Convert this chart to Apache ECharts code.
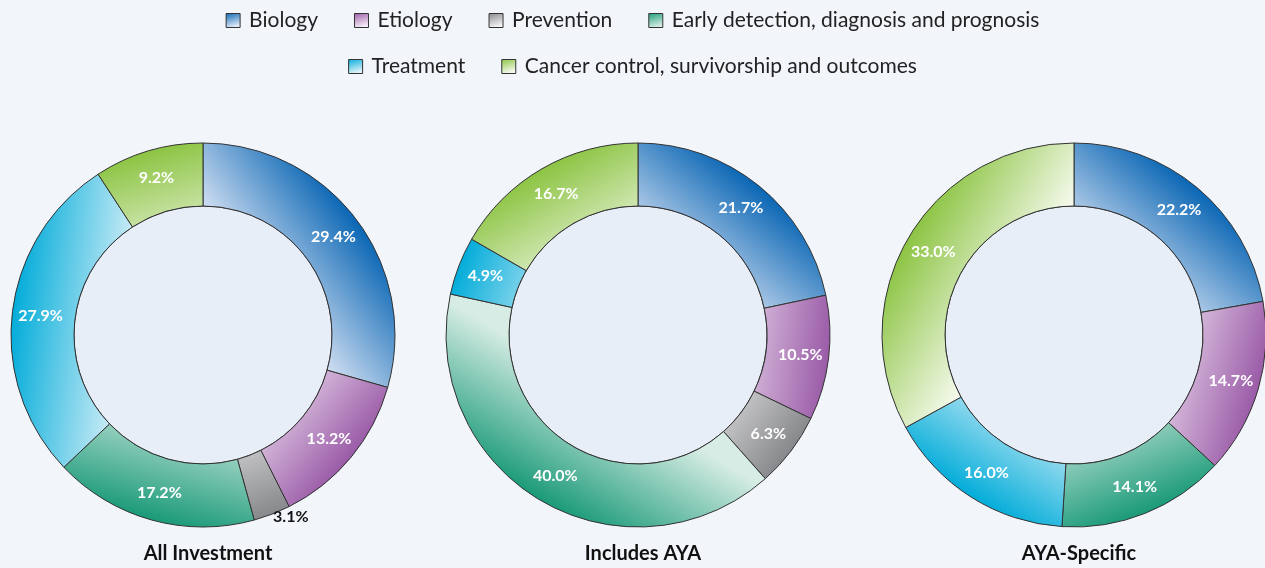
<!DOCTYPE html>
<html>
<head>
<meta charset="utf-8">
<title>Research investment by category</title>
<script src="https://cdn.jsdelivr.net/npm/echarts@6/dist/echarts.min.js"></script>
<style>
  html, body { margin: 0; padding: 0; background: #f2f6fb; }
  #main { width: 1265px; height: 568px; }
</style>
</head>
<body>
<div id="main"></div>
<script>
// categories (legend order)
const categories = [
  "Biology",
  "Etiology",
  "Prevention",
  "Early detection, diagnosis and prognosis",
  "Treatment",
  "Cancer control, survivorship and outcomes",
];
// percent share per category, one array per donut
const allInvestment = [29.4, 13.2, 3.1, 17.2, 27.9, 9.2];
const includesAYA = [21.7, 10.5, 6.3, 40.0, 4.9, 16.7];
const ayaSpecific = [22.2, 14.7, 0, 14.1, 16.0, 33.0];
const chartTitles = ["All Investment", "Includes AYA", "AYA-Specific"];

// styles
const darkColors = ["#0a66b4", "#9a5ba7", "#87888b", "#1a9a78", "#02acd9", "#8cc443"];
const lightColors = ["#e2e9f7", "#f7eef8", "#f4f4f4", "#d6ece4", "#e2f3fa", "#f6faee"];
const centers = [[203, 335], [638, 335], [1074, 335]];
const R_IN = 129;
const R_OUT = 192;
const FONT = "Lato, 'Open Sans', sans-serif";

// gradient that runs outward along the slice's middle direction
function sliceGradient(cx, cy, midDeg, i) {
  const a = (midDeg * Math.PI) / 180;
  const dx = Math.sin(a);
  const dy = -Math.cos(a);
  return {
    type: "linear",
    global: true,
    x: cx + dx * R_OUT * 0.35,
    y: cy + dy * R_OUT * 0.35,
    x2: cx + dx * R_OUT,
    y2: cy + dy * R_OUT,
    colorStops: [
      { offset: 0, color: lightColors[i] },
      { offset: 1, color: darkColors[i] },
    ],
  };
}

function buildDonut(values, k) {
  const [cx, cy] = centers[k];
  const total = values.reduce((s, v) => s + v, 0);
  let acc = 0;
  const data = [];
  values.forEach((v, i) => {
    const mid = ((acc + v / 2) / total) * 360;
    acc += v;
    if (!v) return;
    const item = {
      name: categories[i],
      value: v,
      itemStyle: { color: sliceGradient(cx, cy, mid, i) },
    };
    if (v < 4) {
      // thin slice: label sits outside the ring in black
      item.label = {
        position: "outside",
        color: "#111",
        distanceToLabelLine: 0,
      };
      item.labelLine = { show: false, length: 3, length2: 0 };
    }
    data.push(item);
  });
  return {
    type: "pie",
    name: chartTitles[k],
    center: [cx, cy],
    radius: [R_IN, R_OUT],
    startAngle: 90,
    clockwise: true,
    avoidLabelOverlap: false,
    animation: false,
    z: 3,
    itemStyle: { borderColor: "#333", borderWidth: 1 },
    label: {
      show: true,
      position: "inside",
      color: "#fff",
      fontFamily: FONT,
      fontWeight: "bold",
      fontSize: 16,
      formatter: (p) => p.value.toFixed(1) + "%",
    },
    labelLine: { show: false },
    emphasis: { disabled: true },
    data: data,
  };
}

// light inner disk of each donut
function innerDisk(k) {
  return {
    type: "pie",
    silent: true,
    center: centers[k],
    radius: [0, R_IN],
    z: 1,
    animation: false,
    label: { show: false },
    labelLine: { show: false },
    itemStyle: { color: "#e7eef8", borderColor: "#333", borderWidth: 1 },
    data: [{ name: "inner" + k, value: 1 }],
  };
}

function legendItem(i) {
  return {
    name: categories[i],
    itemStyle: {
      color: {
        type: "linear", x: 0, y: 0, x2: 0.3, y2: 1,
        colorStops: [
          { offset: 0, color: darkColors[i] },
          { offset: 1, color: lightColors[i] },
        ],
      },
      borderColor: "#333",
      borderWidth: 1,
    },
  };
}

const legendBase = {
  left: "center",
  icon: "rect",
  itemWidth: 14,
  itemHeight: 14,
  itemGap: 36,
  selectedMode: false,
  textStyle: {
    fontFamily: FONT,
    fontSize: 21,
    color: "#222",
    padding: [0, 0, 0, 4],
  },
};

const myChart = echarts.init(document.getElementById("main"));
myChart.setOption({
  backgroundColor: "#f2f6fb",
  animation: false,
  title: chartTitles.map((t, k) => ({
    text: t,
    left: centers[k][0],
    top: 539,
    textAlign: "center",
    textStyle: { fontFamily: FONT, fontWeight: "bold", fontSize: 20, color: "#111" },
  })),
  legend: [
    Object.assign({}, legendBase, { top: 5, data: [0, 1, 2, 3].map(legendItem) }),
    Object.assign({}, legendBase, { top: 51, data: [4, 5].map(legendItem) }),
  ],
  series: [
    innerDisk(0), innerDisk(1), innerDisk(2),
    buildDonut(allInvestment, 0),
    buildDonut(includesAYA, 1),
    buildDonut(ayaSpecific, 2),
  ],
});
</script>
</body>
</html>
